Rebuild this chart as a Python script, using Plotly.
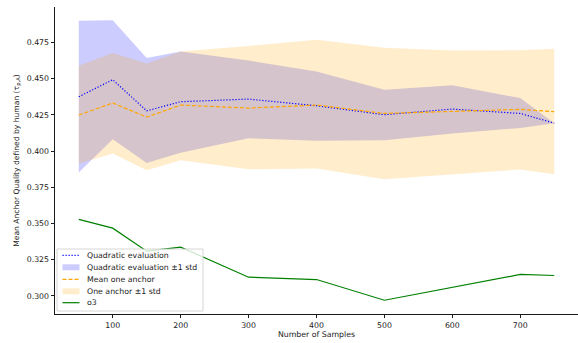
import plotly.graph_objects as go

samples = [50, 100, 150, 200, 300, 400, 500, 600, 700, 750]

quad_mean = [0.4375, 0.4493, 0.4278, 0.4341, 0.4359, 0.4313, 0.4251, 0.4290, 0.4260, 0.4193]
quad_upper = [0.4900, 0.4904, 0.4643, 0.4687, 0.4625, 0.4549, 0.4424, 0.4454, 0.4366, 0.4193]
quad_lower = [0.3852, 0.4082, 0.3918, 0.3988, 0.4089, 0.4071, 0.4075, 0.4122, 0.4159, 0.4193]

one_mean = [0.4249, 0.4332, 0.4235, 0.4318, 0.4297, 0.4318, 0.4260, 0.4274, 0.4288, 0.4272]
one_upper = [0.4590, 0.4678, 0.4604, 0.4687, 0.4726, 0.4768, 0.4713, 0.4694, 0.4697, 0.4706]
one_lower = [0.3914, 0.3983, 0.3868, 0.3937, 0.3875, 0.3880, 0.3805, 0.3840, 0.3873, 0.3840]

o3 = [0.3528, 0.3468, 0.3309, 0.3337, 0.3129, 0.3113, 0.2970, 0.3057, 0.3148, 0.3141]

y_ticks = [0.300, 0.325, 0.350, 0.375, 0.400, 0.425, 0.450, 0.475]
x_ticks = [100, 200, 300, 400, 500, 600, 700]

legend_labels = ["Quadratic evaluation", "Quadratic evaluation ±1 std",
                 "Mean one anchor", "One anchor ±1 std", "o3"]

FONT = "DejaVu Sans"
FS = 7.8
TXT = "#1a1a1a"
W, H = 578, 343
ML, MR, MT, MB = 55, 0, 7, 29
PW, PH = W - ML - MR, H - MT - MB
DOT = "1.2px,1.8px"
DASH = "4px,2px"


def px(x):
    return (x - ML) / PW


def py(y):
    return (H - MB - y) / PH


fig = go.Figure()

fig.add_trace(go.Scatter(x=samples, y=quad_lower, mode="lines", line=dict(width=0),
                         showlegend=False, hoverinfo="skip"))
fig.add_trace(go.Scatter(x=samples, y=quad_upper, mode="lines", line=dict(width=0),
                         fill="tonexty", fillcolor="rgba(0,0,255,0.2)",
                         name=legend_labels[1], showlegend=False))
fig.add_trace(go.Scatter(x=samples, y=one_lower, mode="lines", line=dict(width=0),
                         showlegend=False, hoverinfo="skip"))
fig.add_trace(go.Scatter(x=samples, y=one_upper, mode="lines", line=dict(width=0),
                         fill="tonexty", fillcolor="rgba(255,165,0,0.2)",
                         name=legend_labels[3], showlegend=False))
fig.add_trace(go.Scatter(x=samples, y=quad_mean, mode="lines",
                         line=dict(color="blue", width=1.2, dash=DOT),
                         name=legend_labels[0], showlegend=False))
fig.add_trace(go.Scatter(x=samples, y=one_mean, mode="lines",
                         line=dict(color="orange", width=1.2, dash=DASH),
                         name=legend_labels[2], showlegend=False))
fig.add_trace(go.Scatter(x=samples, y=o3, mode="lines",
                         line=dict(color="green", width=1.2),
                         name=legend_labels[4], showlegend=False))

# manual legend (matplotlib style, compact rows)
shapes = []
annotations = []
box_l, box_r, box_t, box_b = 57, 203, 249, 311
shapes.append(dict(type="rect", xref="paper", yref="paper",
                   x0=px(box_l), x1=px(box_r), y0=py(box_b), y1=py(box_t),
                   fillcolor="rgba(255,255,255,0.8)", line=dict(color="#cccccc", width=0.8),
                   layer="above"))
rows = [255.3, 267.3, 279.3, 291.3, 302.7]
h0, h1, tx = 62.5, 79.5, 84.5
styles = [("line", "blue", DOT), ("patch", "rgba(0,0,255,0.2)", None),
          ("line", "orange", DASH), ("patch", "rgba(255,165,0,0.2)", None),
          ("line", "green", "solid")]
for yc, (kind, col, dash), lab in zip(rows, styles, legend_labels):
    if kind == "line":
        shapes.append(dict(type="line", xref="paper", yref="paper",
                           x0=px(h0), x1=px(h1), y0=py(yc), y1=py(yc),
                           line=dict(color=col, width=1.2, dash=dash), layer="above"))
    else:
        shapes.append(dict(type="rect", xref="paper", yref="paper",
                           x0=px(h0), x1=px(h1), y0=py(yc + 3), y1=py(yc - 3),
                           fillcolor=col, line=dict(width=0), layer="above"))
    annotations.append(dict(xref="paper", yref="paper", x=px(tx), y=py(yc),
                            xanchor="left", yanchor="middle", showarrow=False,
                            text=lab, font=dict(family=FONT, size=FS, color=TXT)))

fig.update_layout(
    width=W, height=H,
    margin=dict(l=ML, r=MR, t=MT, b=MB),
    paper_bgcolor="white", plot_bgcolor="white",
    font=dict(family=FONT, size=FS, color=TXT),
    showlegend=False,
    shapes=shapes, annotations=annotations,
    xaxis=dict(range=[15, 785], tickmode="array", tickvals=x_ticks,
               showgrid=False, zeroline=False, showline=True, linecolor=TXT, linewidth=0.8,
               ticks="outside", ticklen=3.5, tickwidth=0.8, tickcolor=TXT,
               title=dict(text="Number of Samples", font=dict(size=FS), standoff=2)),
    yaxis=dict(range=[0.2875, 0.4995], tickmode="array", tickvals=y_ticks, tickformat=".3f",
               showgrid=False, zeroline=False, showline=True, linecolor=TXT, linewidth=0.8,
               ticks="outside", ticklen=3.5, tickwidth=0.8, tickcolor=TXT,
               title=dict(text="Mean Anchor Quality defined by human (τ<sub>p,A</sub>)",
                          font=dict(size=7.6), standoff=6)),
)

fig.write_html("out.html")
